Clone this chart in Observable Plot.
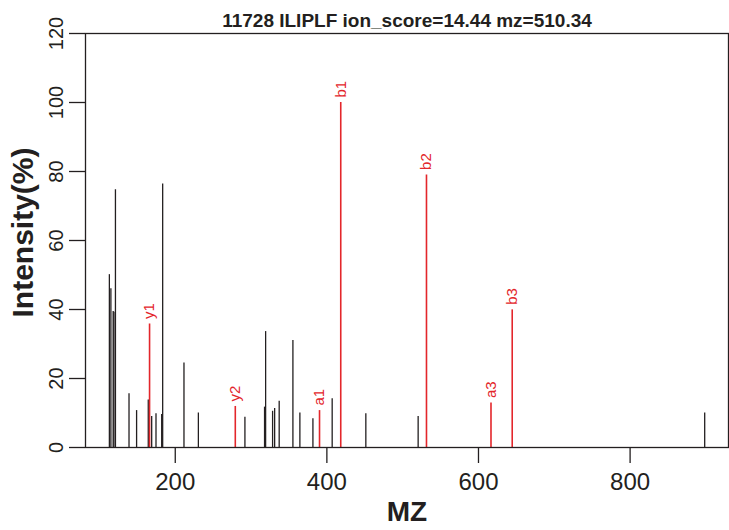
<!DOCTYPE html>
<html>
<head>
<meta charset="utf-8">
<script src="https://cdn.jsdelivr.net/npm/d3@7"></script>
<script src="https://cdn.jsdelivr.net/npm/@observablehq/plot@0.6"></script>
<style>
  html, body { margin: 0; padding: 0; background: #fff; }
</style>
</head>
<body>
<div id="chart"></div>
<script>
// ---- data ----
const titleText = "11728 ILIPLF ion_score=14.44 mz=510.34";
const xLabel = "MZ";
const yLabel = "Intensity(%)";

// unmatched (black) peaks
const peakMz = [113.1, 115.1, 118.1, 119.1, 121.1, 139.0, 149.0, 164.4, 168.9, 174.6,
                182.1, 183.4, 211.5, 230.5, 291.9, 317.8, 319.2, 328.4, 331.1, 337.1,
                355.2, 364.4, 381.6, 407.0, 451.4, 520.4, 898.4];
const peakInt = [50.1, 46.0, 39.4, 39.2, 74.7, 15.6, 10.7, 13.8, 9.0, 9.8,
                 9.6, 76.4, 24.5, 10.0, 8.8, 11.7, 33.6, 10.5, 11.3, 13.4,
                 31.0, 10.0, 8.3, 14.1, 9.8, 9.0, 10.0];

// matched (red) fragment ions
const ionNames = ["y1", "y2", "a1", "b1", "b2", "a3", "b3"];
const ionMz = [166.1, 279.2, 390.3, 418.3, 531.4, 616.5, 644.5];
const ionInt = [35.8, 11.9, 10.7, 100.0, 79.0, 12.9, 39.9];

const xTicks = [200, 400, 600, 800];
const yTicks = [0, 20, 40, 60, 80, 100, 120];
const xDomain = [81.6, 929.8];
const yDomain = [0, 120];

// ---- build tables ----
const peaks = peakMz.map((mz, i) => ({mz, intensity: peakInt[i]}));
const ions = ionMz.map((mz, i) => ({mz, intensity: ionInt[i], name: ionNames[i]}));

const ink = "#231f20";
const red = "#e3262b";

const chart = Plot.plot({
  width: 729,
  height: 530,
  marginLeft: 85,
  marginRight: 1,
  marginTop: 33,
  marginBottom: 83,
  style: {fontFamily: "'Liberation Sans', Arial, Helvetica, sans-serif", background: "#fff", color: ink},
  x: {domain: xDomain},
  y: {domain: yDomain},
  marks: [
    Plot.ruleX(peaks, {x: "mz", y1: 0, y2: "intensity", stroke: ink, strokeWidth: 1.3}),
    Plot.ruleX(ions, {x: "mz", y1: 0, y2: "intensity", stroke: red, strokeWidth: 1.6}),
    Plot.text(ions, {x: "mz", y: "intensity", text: "name", rotate: -90, textAnchor: "start",
      lineAnchor: "middle", dy: -5, fill: red, fontSize: 15}),
    Plot.frame({stroke: ink, strokeWidth: 1.3}),
    Plot.axisX({ticks: xTicks, tickSize: 16, tickPadding: 9, fontSize: 24, label: null,
      stroke: ink, strokeWidth: 1.3, tickFormat: d => String(d)}),
    Plot.axisY({ticks: yTicks, tickSize: 16, tickPadding: 7, tickRotate: -90, fontSize: 20, label: null,
      stroke: ink, strokeWidth: 1.3, tickFormat: d => String(d)}),
    Plot.text([titleText], {frameAnchor: "top", dy: -6.5, lineAnchor: "bottom", fontSize: 19,
      fontWeight: "bold", fill: ink}),
    Plot.text([xLabel], {frameAnchor: "bottom", dy: 73, lineAnchor: "bottom", fontSize: 28,
      fontWeight: "bold", fill: ink}),
    Plot.text([yLabel], {frameAnchor: "left", dx: -53, dy: -8, rotate: -90, textAnchor: "middle",
      lineAnchor: "bottom", fontSize: 30, fontWeight: "bold", fill: ink})
  ]
});
document.getElementById("chart").appendChild(chart);
</script>
</body>
</html>
